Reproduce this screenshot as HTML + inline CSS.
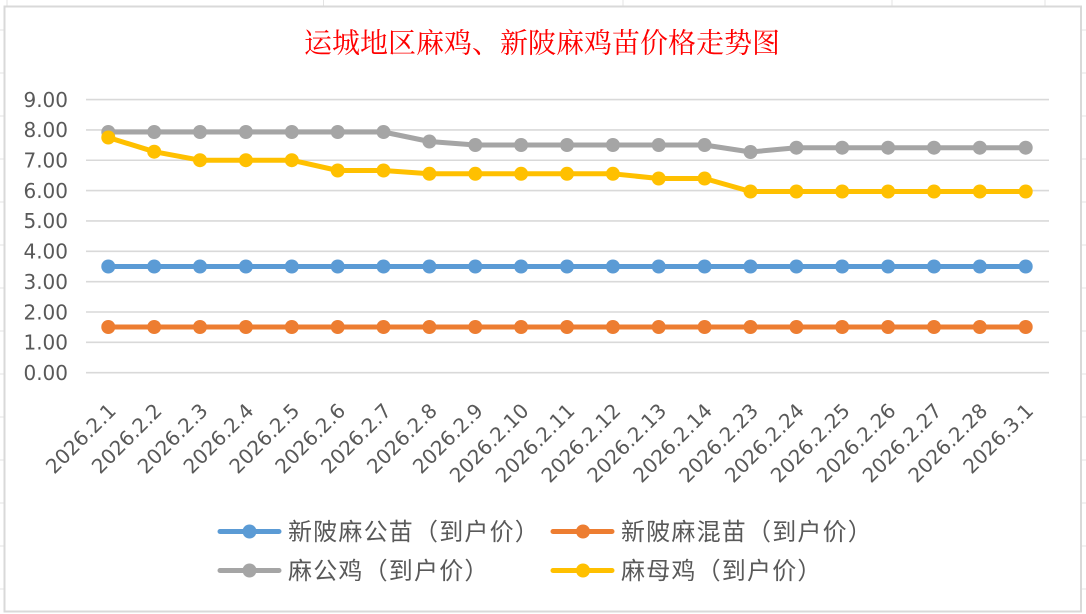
<!DOCTYPE html>
<html>
<head>
<meta charset="utf-8">
<style>
html,body{margin:0;padding:0;background:#fff;}
svg{display:block;}
</style>
</head>
<body>
<svg width="1086" height="614" viewBox="0 0 1086 614" xmlns="http://www.w3.org/2000/svg">
<!-- spreadsheet grid outside chart -->
<g stroke="#e3e3e3" stroke-width="1">
<line x1="7" y1="0" x2="7" y2="6"/>
<line x1="323.5" y1="0" x2="323.5" y2="6"/>
<line x1="623" y1="0" x2="623" y2="6"/>
<line x1="892" y1="0" x2="892" y2="6"/>
<line x1="1045" y1="0" x2="1045" y2="6"/>
<line x1="0" y1="30" x2="4" y2="30"/><line x1="1081" y1="30" x2="1086" y2="30"/>
<line x1="0" y1="73" x2="4" y2="73"/><line x1="1081" y1="73" x2="1086" y2="73"/>
<line x1="0" y1="116" x2="4" y2="116"/><line x1="1081" y1="116" x2="1086" y2="116"/>
<line x1="0" y1="159" x2="4" y2="159"/><line x1="1081" y1="159" x2="1086" y2="159"/>
<line x1="0" y1="202" x2="4" y2="202"/><line x1="1081" y1="202" x2="1086" y2="202"/>
<line x1="0" y1="245" x2="4" y2="245"/><line x1="1081" y1="245" x2="1086" y2="245"/>
<line x1="0" y1="288" x2="4" y2="288"/><line x1="1081" y1="288" x2="1086" y2="288"/>
<line x1="0" y1="331" x2="4" y2="331"/><line x1="1081" y1="331" x2="1086" y2="331"/>
<line x1="0" y1="374" x2="4" y2="374"/><line x1="1081" y1="374" x2="1086" y2="374"/>
<line x1="0" y1="417" x2="4" y2="417"/><line x1="1081" y1="417" x2="1086" y2="417"/>
<line x1="0" y1="460" x2="4" y2="460"/><line x1="1081" y1="460" x2="1086" y2="460"/>
<line x1="0" y1="503" x2="4" y2="503"/><line x1="1081" y1="503" x2="1086" y2="503"/>
<line x1="0" y1="546" x2="4" y2="546"/><line x1="1081" y1="546" x2="1086" y2="546"/>
<line x1="0" y1="589" x2="4" y2="589"/><line x1="1081" y1="589" x2="1086" y2="589"/>
</g>
<!-- chart frame -->
<rect x="4.5" y="6.5" width="1076.5" height="605" fill="#fff" stroke="#d9d9d9" stroke-width="2"/>

<!-- title -->
<text x="542" y="52.5" text-anchor="middle" font-family="'Liberation Serif','Noto Serif CJK SC',serif" font-size="28" fill="#ff0000">运城地区麻鸡、新陂麻鸡苗价格走势图</text>

<!-- gridlines -->
<g stroke="#d9d9d9" stroke-width="1.6">
<line x1="86" y1="99.55" x2="1049" y2="99.55"/>
<line x1="86" y1="129.9" x2="1049" y2="129.9"/>
<line x1="86" y1="160.25" x2="1049" y2="160.25"/>
<line x1="86" y1="190.6" x2="1049" y2="190.6"/>
<line x1="86" y1="220.95" x2="1049" y2="220.95"/>
<line x1="86" y1="251.3" x2="1049" y2="251.3"/>
<line x1="86" y1="281.65" x2="1049" y2="281.65"/>
<line x1="86" y1="312" x2="1049" y2="312"/>
<line x1="86" y1="342.35" x2="1049" y2="342.35"/>
<line x1="86" y1="372.7" x2="1049" y2="372.7"/>
</g>

<!-- y labels -->
<g font-family="'DejaVu Sans','Liberation Sans',sans-serif" font-size="20" fill="#595959" text-anchor="end">
<text x="68" y="106.8">9.00</text>
<text x="68" y="137.2">8.00</text>
<text x="68" y="167.5">7.00</text>
<text x="68" y="197.9">6.00</text>
<text x="68" y="228.2">5.00</text>
<text x="68" y="258.6">4.00</text>
<text x="68" y="288.9">3.00</text>
<text x="68" y="319.3">2.00</text>
<text x="68" y="349.6">1.00</text>
<text x="68" y="380">0.00</text>
</g>

<!-- x labels -->
<g font-family="'DejaVu Sans','Liberation Sans',sans-serif" font-size="20" fill="#595959" text-anchor="end">
<text transform="translate(112.3,407) rotate(-45)" y="7">2026.2.1</text>
<text transform="translate(158.2,407) rotate(-45)" y="7">2026.2.2</text>
<text transform="translate(204.0,407) rotate(-45)" y="7">2026.2.3</text>
<text transform="translate(249.9,407) rotate(-45)" y="7">2026.2.4</text>
<text transform="translate(295.8,407) rotate(-45)" y="7">2026.2.5</text>
<text transform="translate(341.7,407) rotate(-45)" y="7">2026.2.6</text>
<text transform="translate(387.5,407) rotate(-45)" y="7">2026.2.7</text>
<text transform="translate(433.4,407) rotate(-45)" y="7">2026.2.8</text>
<text transform="translate(479.3,407) rotate(-45)" y="7">2026.2.9</text>
<text transform="translate(525.1,407) rotate(-45)" y="7">2026.2.10</text>
<text transform="translate(571.0,407) rotate(-45)" y="7">2026.2.11</text>
<text transform="translate(616.9,407) rotate(-45)" y="7">2026.2.12</text>
<text transform="translate(662.7,407) rotate(-45)" y="7">2026.2.13</text>
<text transform="translate(708.6,407) rotate(-45)" y="7">2026.2.14</text>
<text transform="translate(754.5,407) rotate(-45)" y="7">2026.2.23</text>
<text transform="translate(800.4,407) rotate(-45)" y="7">2026.2.24</text>
<text transform="translate(846.2,407) rotate(-45)" y="7">2026.2.25</text>
<text transform="translate(892.1,407) rotate(-45)" y="7">2026.2.26</text>
<text transform="translate(938.0,407) rotate(-45)" y="7">2026.2.27</text>
<text transform="translate(983.8,407) rotate(-45)" y="7">2026.2.28</text>
<text transform="translate(1029.7,407) rotate(-45)" y="7">2026.3.1</text>
</g>

<!-- blue series -->
<g fill="#5b9bd5">
<polyline fill="none" stroke="#5b9bd5" stroke-width="5" stroke-linejoin="round" points="108.3,266.5 1025.7,266.5"/>
<circle cx="108.3" cy="266.5" r="7"/><circle cx="154.2" cy="266.5" r="7"/><circle cx="200.0" cy="266.5" r="7"/><circle cx="245.9" cy="266.5" r="7"/><circle cx="291.8" cy="266.5" r="7"/><circle cx="337.7" cy="266.5" r="7"/><circle cx="383.5" cy="266.5" r="7"/><circle cx="429.4" cy="266.5" r="7"/><circle cx="475.3" cy="266.5" r="7"/><circle cx="521.1" cy="266.5" r="7"/><circle cx="567.0" cy="266.5" r="7"/><circle cx="612.9" cy="266.5" r="7"/><circle cx="658.7" cy="266.5" r="7"/><circle cx="704.6" cy="266.5" r="7"/><circle cx="750.5" cy="266.5" r="7"/><circle cx="796.4" cy="266.5" r="7"/><circle cx="842.2" cy="266.5" r="7"/><circle cx="888.1" cy="266.5" r="7"/><circle cx="934.0" cy="266.5" r="7"/><circle cx="979.8" cy="266.5" r="7"/><circle cx="1025.7" cy="266.5" r="7"/>
</g>
<!-- orange series -->
<g fill="#ed7d31">
<polyline fill="none" stroke="#ed7d31" stroke-width="5" points="108.3,327 1025.7,327"/>
<circle cx="108.3" cy="327" r="7"/><circle cx="154.2" cy="327" r="7"/><circle cx="200.0" cy="327" r="7"/><circle cx="245.9" cy="327" r="7"/><circle cx="291.8" cy="327" r="7"/><circle cx="337.7" cy="327" r="7"/><circle cx="383.5" cy="327" r="7"/><circle cx="429.4" cy="327" r="7"/><circle cx="475.3" cy="327" r="7"/><circle cx="521.1" cy="327" r="7"/><circle cx="567.0" cy="327" r="7"/><circle cx="612.9" cy="327" r="7"/><circle cx="658.7" cy="327" r="7"/><circle cx="704.6" cy="327" r="7"/><circle cx="750.5" cy="327" r="7"/><circle cx="796.4" cy="327" r="7"/><circle cx="842.2" cy="327" r="7"/><circle cx="888.1" cy="327" r="7"/><circle cx="934.0" cy="327" r="7"/><circle cx="979.8" cy="327" r="7"/><circle cx="1025.7" cy="327" r="7"/>
</g>
<!-- gray series -->
<g fill="#a5a5a5">
<polyline fill="none" stroke="#a5a5a5" stroke-width="5" stroke-linejoin="round" points="108.3,132 154.2,132 200.0,132 245.9,132 291.8,132 337.7,132 383.5,132 429.4,141.5 475.3,145 521.1,145 567.0,145 612.9,145 658.7,145 704.6,145 750.5,152 796.4,147.7 842.2,147.7 888.1,147.7 934.0,147.7 979.8,147.7 1025.7,147.7"/>
<circle cx="108.3" cy="132" r="7"/><circle cx="154.2" cy="132" r="7"/><circle cx="200.0" cy="132" r="7"/><circle cx="245.9" cy="132" r="7"/><circle cx="291.8" cy="132" r="7"/><circle cx="337.7" cy="132" r="7"/><circle cx="383.5" cy="132" r="7"/><circle cx="429.4" cy="141.5" r="7"/><circle cx="475.3" cy="145" r="7"/><circle cx="521.1" cy="145" r="7"/><circle cx="567.0" cy="145" r="7"/><circle cx="612.9" cy="145" r="7"/><circle cx="658.7" cy="145" r="7"/><circle cx="704.6" cy="145" r="7"/><circle cx="750.5" cy="152" r="7"/><circle cx="796.4" cy="147.7" r="7"/><circle cx="842.2" cy="147.7" r="7"/><circle cx="888.1" cy="147.7" r="7"/><circle cx="934.0" cy="147.7" r="7"/><circle cx="979.8" cy="147.7" r="7"/><circle cx="1025.7" cy="147.7" r="7"/>
</g>
<!-- yellow series -->
<g fill="#ffc000">
<polyline fill="none" stroke="#ffc000" stroke-width="5" stroke-linejoin="round" points="108.3,137.5 154.2,151.7 200.0,160.2 245.9,160.2 291.8,160.2 337.7,170.5 383.5,170.5 429.4,173.8 475.3,173.8 521.1,173.8 567.0,173.8 612.9,173.8 658.7,178.5 704.6,178.5 750.5,191.5 796.4,191.5 842.2,191.5 888.1,191.5 934.0,191.5 979.8,191.5 1025.7,191.5"/>
<circle cx="108.3" cy="137.5" r="7"/><circle cx="154.2" cy="151.7" r="7"/><circle cx="200.0" cy="160.2" r="7"/><circle cx="245.9" cy="160.2" r="7"/><circle cx="291.8" cy="160.2" r="7"/><circle cx="337.7" cy="170.5" r="7"/><circle cx="383.5" cy="170.5" r="7"/><circle cx="429.4" cy="173.8" r="7"/><circle cx="475.3" cy="173.8" r="7"/><circle cx="521.1" cy="173.8" r="7"/><circle cx="567.0" cy="173.8" r="7"/><circle cx="612.9" cy="173.8" r="7"/><circle cx="658.7" cy="178.5" r="7"/><circle cx="704.6" cy="178.5" r="7"/><circle cx="750.5" cy="191.5" r="7"/><circle cx="796.4" cy="191.5" r="7"/><circle cx="842.2" cy="191.5" r="7"/><circle cx="888.1" cy="191.5" r="7"/><circle cx="934.0" cy="191.5" r="7"/><circle cx="979.8" cy="191.5" r="7"/><circle cx="1025.7" cy="191.5" r="7"/>
</g>

<!-- legend -->
<g stroke-width="5" stroke-linecap="round">
<line x1="220" y1="531.5" x2="279" y2="531.5" stroke="#5b9bd5"/>
<line x1="553" y1="531.5" x2="612" y2="531.5" stroke="#ed7d31"/>
<line x1="220" y1="570.5" x2="279" y2="570.5" stroke="#a5a5a5"/>
<line x1="553" y1="570.5" x2="612" y2="570.5" stroke="#ffc000"/>
</g>
<circle cx="249.5" cy="531.5" r="7" fill="#5b9bd5"/>
<circle cx="583" cy="531.5" r="7" fill="#ed7d31"/>
<circle cx="249.5" cy="570.5" r="7" fill="#a5a5a5"/>
<circle cx="583" cy="570.5" r="7" fill="#ffc000"/>
<g font-family="'Liberation Sans','Noto Sans CJK SC',sans-serif" font-size="24" fill="#595959" letter-spacing="1.2">
<text x="288" y="540">新陂麻公苗（到户价）</text>
<text x="621" y="540">新陂麻混苗（到户价）</text>
<text x="288" y="579">麻公鸡（到户价）</text>
<text x="621" y="579">麻母鸡（到户价）</text>
</g>
</svg>
</body>
</html>
